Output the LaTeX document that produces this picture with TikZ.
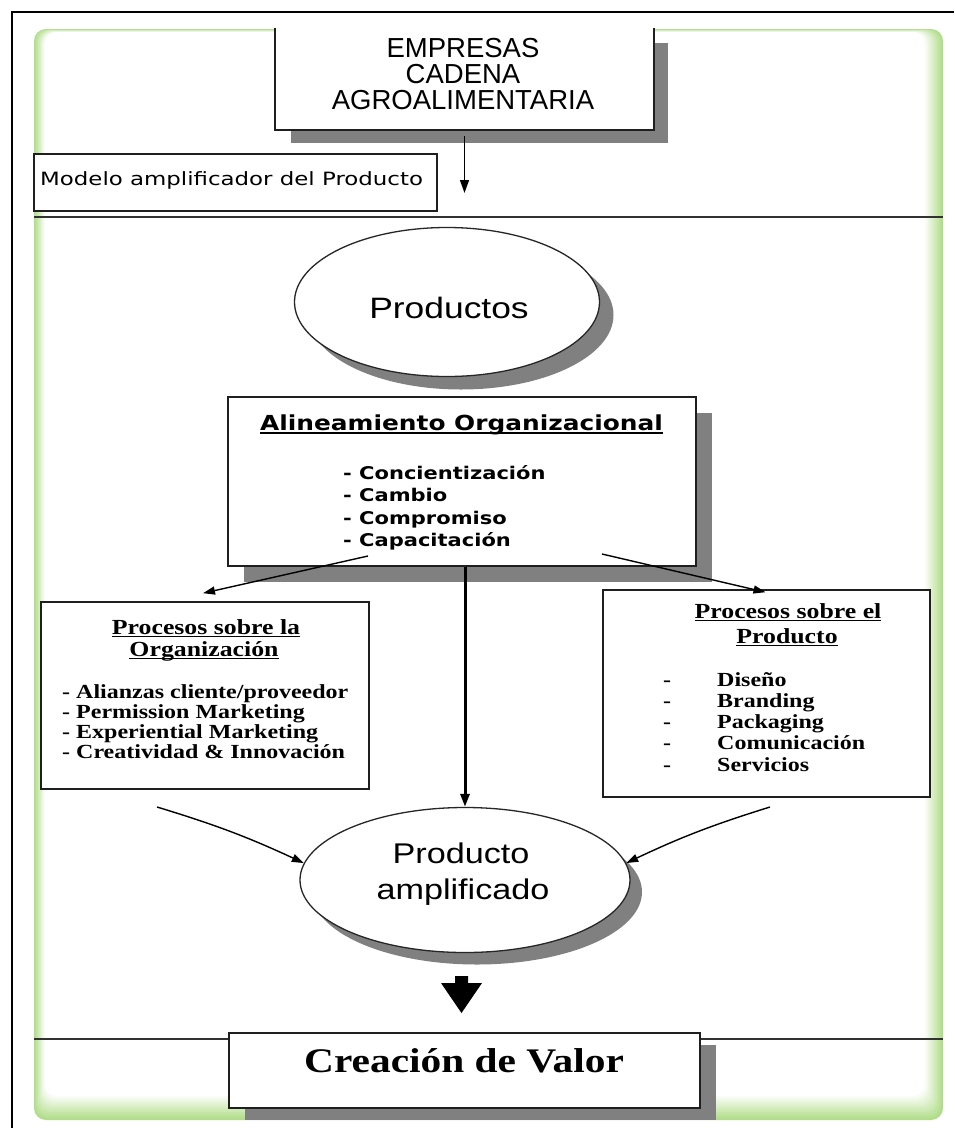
\documentclass[tikz,border=0pt]{standalone}
\usepackage{fontspec}
\usetikzlibrary{arrows.meta,shapes.geometric,shadows,calc}
\newfontfamily\empf[FakeStretch=1.0]{Liberation Sans}
\newfontfamily\modf[FakeStretch=1.25]{DejaVu Sans}
\newfontfamily\prodf[FakeStretch=1.2]{Liberation Sans}
\newfontfamily\alif[FakeStretch=1.2]{DejaVu Sans}
\newfontfamily\serf[FakeStretch=1.2]{Liberation Serif}
\newcommand\myul[3]{\setbox0\hbox{#3}\rlap{\rule[-#1]{\wd0}{#2}}\box0}
\definecolor{pgreen}{RGB}{176,221,136}
\definecolor{shgray}{RGB}{128,128,128}
\definecolor{lineg}{RGB}{50,50,50}
\begin{document}
\begin{tikzpicture}[x=1pt,y=-1pt,
  box/.style={draw=black!88, line width=1.6pt, fill=white, inner sep=0pt, rectangle},
  ell/.style={draw=black!85, line width=1.3pt, fill=white, inner sep=0pt, ellipse},
  shadA/.style={drop shadow={shadow xshift=15pt, shadow yshift=-14pt, fill=shgray, opacity=1}},
  shadB/.style={drop shadow={shadow xshift=16pt, shadow yshift=-16pt, fill=shgray, opacity=1}},
  shadC/.style={drop shadow={shadow xshift=14pt, shadow yshift=-13pt, fill=shgray, opacity=1}},
  shadD/.style={drop shadow={shadow xshift=12pt, shadow yshift=-12pt, fill=shgray, opacity=1}},
  shadE/.style={drop shadow={shadow xshift=16pt, shadow yshift=-12pt, fill=shgray, opacity=1}},
  txt/.style={inner sep=0pt, anchor=base},
  empt/.style={inner sep=0pt, anchor=north, align=center, font=\empf\fontsize{27.5}{26}\selectfont},
  prodt/.style={txt, font=\prodf\fontsize{29.5}{32}\selectfont},
  ampt/.style={txt, font=\prodf\fontsize{28.5}{32}\selectfont},
  alit/.style={txt, font=\alif\bfseries\fontsize{20.7}{24}\selectfont},
  aliitem/.style={txt, anchor=base west, font=\alif\bfseries\fontsize{17.5}{20}\selectfont},
  sert/.style={txt, font=\serf\bfseries\fontsize{21.5}{24}\selectfont},
  seritem/.style={txt, anchor=base west, font=\serf\bfseries\fontsize{20}{22}\selectfont},
  conn/.style={line width=1.4pt, -{Triangle[length=12pt,width=8pt]}},
  sepline/.style={line width=2.2pt, lineg}
]
\useasboundingbox (0,0) rectangle (954,1128);
\fill[white] (0,0) rectangle (954,1128);
% green panel
\foreach \i in {0,...,12}{
  \pgfmathtruncatemacro\p{100-\i*8.33}
  \fill[pgreen!\p!white, rounded corners=12pt] ({34+0.9*\i},{29+0.25*\i}) rectangle ({943-1.5*\i},{1120-2.0*\i});
}
% outer frame
\draw[line width=2.5pt] (12,1128) -- (12,12) -- (954,12);
% separators
\draw[sepline] (34,217) -- (943,217);
\draw[sepline] (34,1039) -- (943,1039);

% top box
\node[box, draw=none, shadA, minimum width=377, minimum height=100] (emp) at (464.5,79) {};
\draw[line width=1.6pt, black!88] (emp.north west) -- (emp.south west) -- (emp.south east) -- (emp.north east);
\node[empt] (empt) at (463,38) {EMPRESAS\\CADENA\\AGROALIMENTARIA};

% modelo box
\node[box, minimum width=403, minimum height=57] (mod) at (235.5,182.5) {};
\node[txt, anchor=base west, font=\modf\fontsize{18.3}{20}\selectfont] (modt) at (40,185) {Modelo amplificador del Producto};
\coordinate (modtip) at (464.5,193);
\draw[line width=1.4pt, -{Triangle[length=13pt,width=9pt]}] ($(emp.south)+(0,6)$) -- (modtip);

% Productos
\node[ell, shadC, minimum width=305, minimum height=149] (prod) at (447,302) {};
\node[prodt] (prodtxt) at (449,318) {Productos};

% Alineamiento
\node[box, shadB, minimum width=468, minimum height=169] (ali) at (462,481.5) {};
\node[alit] (alitxt) at (461.5,430) {\myul{3.5pt}{1.9pt}{Alineamiento Organizacional}};
\foreach \t [count=\i] in {Concientización,Cambio,Compromiso,Capacitación}
  \node[aliitem] (ali\i) at (343,{479+22.6*(\i-1)}) {- \t};

% left process box
\node[box, minimum width=328, minimum height=187] (procL) at (205,695.5) {};
\node[sert] (pl1) at (206,634) {\myul{2.8pt}{1.3pt}{Procesos sobre la}};
\node[sert] (pl2) at (204,656) {\myul{2.8pt}{1.3pt}{Organización}};
\foreach \t [count=\i] in {Alianzas cliente/proveedor,Permission Marketing,Experiential Marketing,Creatividad \& Innovación}
  \node[seritem] (pli\i) at (62,{698+20*(\i-1)}) {- \t};

% right process box
\node[box, minimum width=327, minimum height=207] (procR) at (766.5,693.5) {};
\node[sert] (pr1) at (788,618) {\myul{2.8pt}{1.3pt}{Procesos sobre el}};
\node[sert] (pr2) at (787,643) {\myul{2.8pt}{1.3pt}{Producto}};
\foreach \t [count=\i] in {Diseño,Branding,Packaging,Comunicación,Servicios}
  \node[seritem] (pri\i) at (663,{686+21.3*(\i-1)}) {\makebox[54pt][l]{-}\t};

% Producto amplificado
\node[ell, shadD, minimum width=330, minimum height=145] (amp) at (465,880) {};
\node[ampt] (amp1) at (461,863) {Producto};
\node[ampt] (amp2) at (463,899) {amplificado};

% connectors from Alineamiento
\coordinate (aliL) at (368,556);
\coordinate (aliR) at (602,554);
\draw[conn] (aliL) -- ($(procL.north)+(-2,-8)$);
\draw[conn] (aliR) -- ($(procR.north)+(-1,3)$);
\draw[line width=3pt, -{Triangle[length=13pt,width=9pt]}] (amp.north |- ali.south) -- (amp.north);

% curved connectors into Producto amplificado
\coordinate (cL) at (157,807);
\coordinate (cR) at (770,807);
\draw[conn] (cL) to[bend left=4] (amp.174);
\draw[conn] (cR) to[bend right=4] (amp.6);

% big arrow
\coordinate (bigA) at (461.5,976);
\fill ($(bigA)+(-6.5,0)$) -- ($(bigA)+(6.5,0)$) -- ($(bigA)+(6.5,7)$) -- ($(bigA)+(20.5,7)$) -- ($(bigA)+(0,37)$) -- ($(bigA)+(-20.5,7)$) -- ($(bigA)+(-6.5,7)$) -- cycle;

% Creacion de Valor
\node[box, shadE, minimum width=471, minimum height=75] (crea) at (464.5,1070.5) {};
\node[txt, font=\serf\bfseries\fontsize{34.5}{36}\selectfont] (creat) at (464,1072) {Creación de Valor};
\end{tikzpicture}
\end{document}
